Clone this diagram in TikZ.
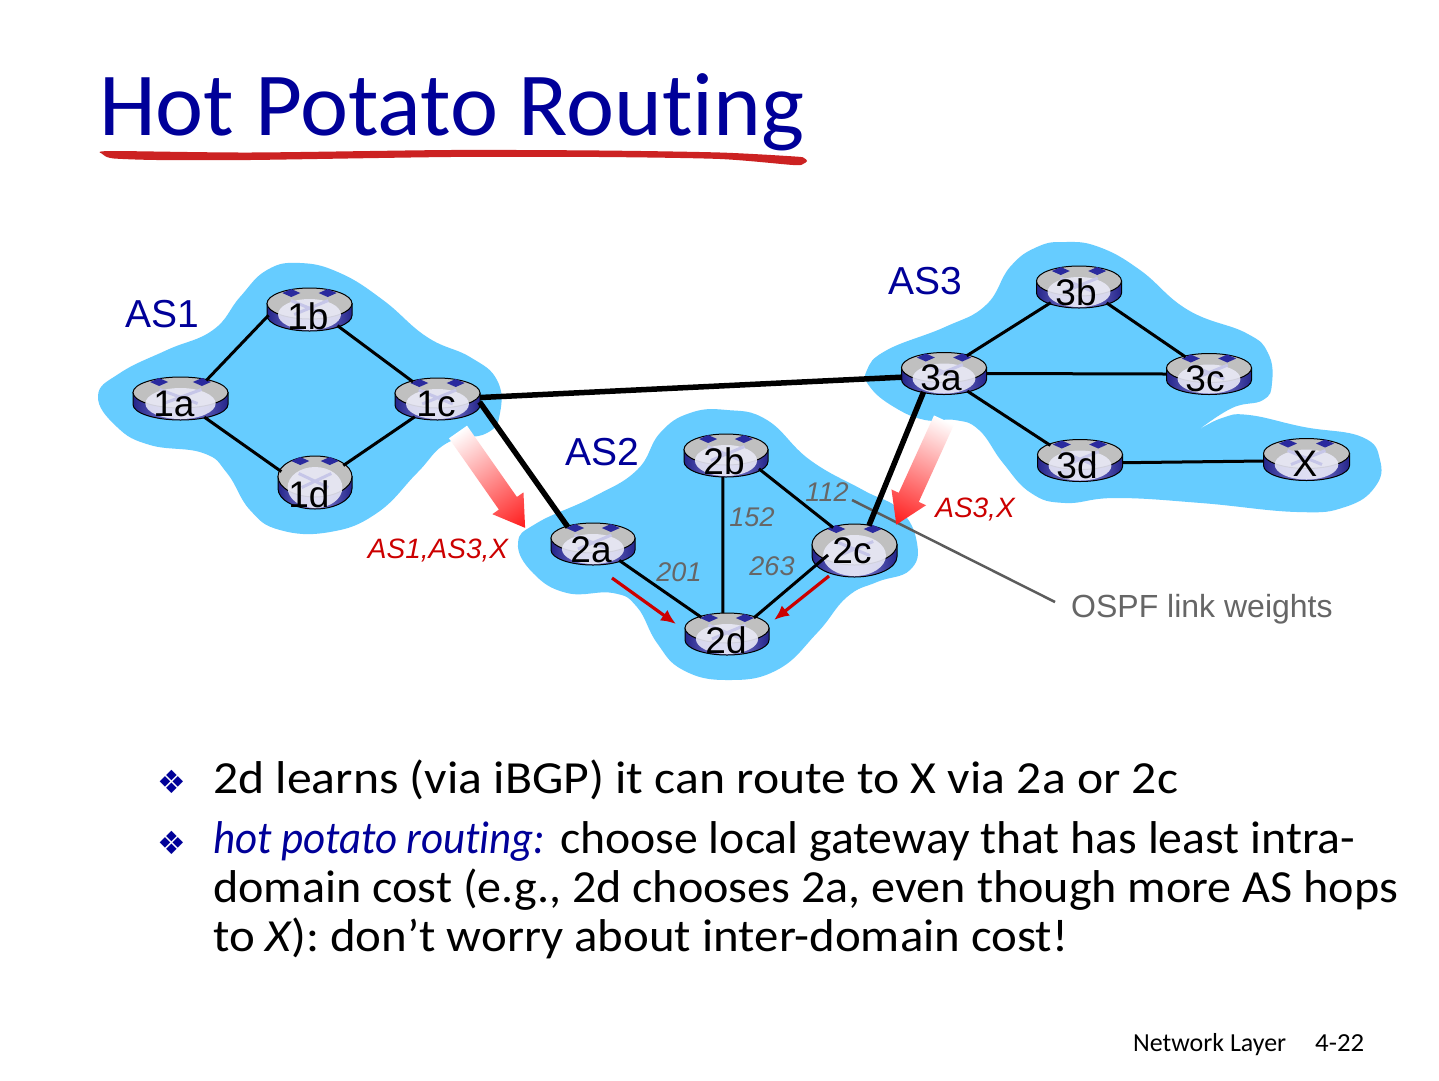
\documentclass[tikz,border=0pt]{standalone}
\usepackage{graphicx}
\usepackage{fontspec}
\setmainfont[Ligatures=NoCommon]{Carlito}
\newfontfamily\arialf{Liberation Sans}
\newfontfamily\dejavuf{DejaVu Sans}
\usetikzlibrary{shapes.geometric,arrows.meta}
\definecolor{navyt}{HTML}{000099}
\definecolor{blobc}{HTML}{66CCFF}
\definecolor{rednote}{HTML}{CC0000}
\definecolor{grayt}{HTML}{666666}
\definecolor{rnavy}{HTML}{24248A}
\definecolor{rlav}{HTML}{8C8CDC}
\definecolor{rtop}{HTML}{C0C0C0}
\definecolor{rglow}{HTML}{E8E8F6}
\definecolor{rchev}{HTML}{C6C6E8}
\definecolor{rdia}{HTML}{2A2A9E}
\definecolor{brush}{HTML}{CC2222}
\newcommand{\fsz}[1]{\fontsize{#1}{#1}\selectfont}
\newcommand{\fitw}[2]{\resizebox{#1pt}{\height}{#2}}
\tikzset{
  x=1pt,y=-1pt,
  blob/.style={fill=blobc,draw=none},
  lnk/.style={draw=black,line width=3pt},
  hvy/.style={draw=black,line width=5.5pt},
  routeranchor/.style={ellipse,inner sep=0pt,outer sep=0pt},
  routerlabel/.style={font=\arialf\fsz{37},text=black,inner sep=0pt},
  aslabel/.style={font=\arialf\fsz{39},text=navyt,inner sep=0pt},
  rednode/.style={font=\arialf\itshape\fsz{28},text=rednote,inner sep=0pt},
  weight/.style={font=\arialf\itshape\fsz{27},text=grayt,inner sep=0pt},
  pathnote/.style={draw=rednote,line width=3.2pt,-{Latex[length=15pt,width=13pt]}},
  bodytext/.style={anchor=base west,inner sep=0pt,font=\fsz{46},text=black},
  bullet/.style={font=\dejavuf\fsz{32},text=navyt,inner sep=0pt},
}
% name, cx, cy, w, h, label, lx, ly
\newcommand{\router}[8]{%
  \begin{scope}[shift={(#2,#3)}]
    \pgfmathsetmacro{\rrx}{#4/2}
    \pgfmathsetmacro{\rry}{(#5-12)/2}
    \pgfmathsetmacro{\rkx}{0.55*\rrx}
    \pgfmathsetmacro{\rky}{6+0.55*\rry}
    \pgfmathsetmacro{\rby}{6+\rry}
    \path[draw=black,line width=1pt,left color=rnavy,right color=rnavy,middle color=rlav]
      (-\rrx,-6) -- (-\rrx,6) .. controls (-\rrx,\rky) and (-\rkx,\rby) .. (0,\rby)
      .. controls (\rkx,\rby) and (\rrx,\rky) .. (\rrx,6) -- (\rrx,-6) -- cycle;
    \path[draw=black,line width=1pt,fill=rtop] (0,-6) ellipse [x radius=\rrx,y radius=\rry];
    \fill[rglow,opacity=.9] (0,5) ellipse [x radius={0.37*#4},y radius=\rry];
    \draw[rchev,line width=3pt] (-0.22*#4,-9) -- (0.18*#4,5) (0.22*#4,-9) -- (-0.18*#4,5);
    \fill[rdia] (-0.32*#4,-\rry-1) -- ++(9,-4) -- ++(9,4) -- ++(-9,4) -- cycle;
    \fill[rdia] (0.32*#4,-\rry-1) -- ++(-9,-4) -- ++(-9,4) -- ++(9,4) -- cycle;
  \end{scope}
  \node[routeranchor,minimum width=#4pt,minimum height=#5pt] (#1) at (#2,#3) {};
  \node[routerlabel] (#1-label) at (#7,#8) {#6};
}
% x, y, rotation, length
\newcommand{\gradarrow}[4]{%
  \begin{scope}[transform canvas={shift={(#1,#2)},rotate=#3}]
    \shade[left color=white,right color=red!90!white]
      (0,-11) -- (#4-30,-11) -- (#4-30,-19) -- (#4,0) -- (#4-30,19) -- (#4-30,11) -- (0,11) -- cycle;
  \end{scope}
}
\begin{document}
\begin{tikzpicture}
\useasboundingbox (0,0) rectangle (1439,1080);
\fill[white] (0,0) rectangle (1439,1080);

% title
\node[anchor=base west,inner sep=0pt,font=\fsz{90},text=navyt] (title) at (99,135) {\fitw{705}{Hot Potato Routing}};
\fill[brush] plot[smooth,tension=.45] coordinates {(101,153) (112,151) (250,152.5) (450,150) (600,150.5) (720,152.5) (795,156.5) (804,158) (807,161) (803,164) (793,165) (720,159) (600,157) (450,157) (250,160) (157,160) (114,158.5) (105,156)} -- cycle;

% clouds
\fill[blob] plot[smooth cycle,tension=.75] coordinates {(98,396) (120,373) (167,350) (213,330) (240,297) (267,270) (300,263) (340,273) (383,300) (427,337) (470,357) (497,380) (500,413) (487,433) (447,443) (417,473) (377,513) (330,532) (280,530) (250,510) (227,473) (203,453) (150,445) (117,427)};
\fill[blob] plot[smooth cycle,tension=.75] coordinates {(518,543) (537,523) (593,497) (637,470) (660,433) (690,413) (727,410) (767,420) (810,460) (863,490) (900,510) (917,543) (910,570) (877,582) (847,597) (817,633) (777,670) (727,680) (683,670) (657,643) (637,607) (613,593) (567,593) (533,573)};
\fill[blob] plot[smooth,tension=.75] coordinates {(1197,431) (1222,418) (1249,415) (1304,427) (1362,437) (1380,460) (1375,487) (1345,507) (1297,512) (1201,503) (1116,498) (1065,503) (1031,493) (1003,463) (979,430) (955,420) (925,420) (894,407) (870,387) (867,370) (887,350) (945,327) (986,305) (1010,267) (1037,247) (1065,242) (1099,247) (1140,270) (1188,310) (1246,333) (1268,353) (1272,383) (1263,400) (1232,408) (1197,431)} -- cycle;

% leader to the weights note
\coordinate (ospfstart) at (852,500);
\node[anchor=base west,inner sep=0pt,font=\arialf\fsz{32},text=grayt] (ospf) at (1071,617) {OSPF link weights};
\coordinate (ospfend) at (1055,602);
\draw[draw=grayt!90!black,line width=2.5pt] (ospfstart) -- (ospfend);

% gradient arrows
\gradarrow{458}{432}{-55}{117}
\gradarrow{944}{420}{-114.5}{115}

% routers
\router{r1a}{180.5}{398.5}{95}{43}{1a}{174}{404}
\router{r1b}{309.5}{309.5}{85}{43}{1b}{308}{316}
\router{r1c}{437.5}{399}{85}{42}{1c}{436}{404}
\router{r1d}{315}{482.5}{74}{53}{1d}{309}{494}
\router{r2a}{593}{544}{84}{42}{2a}{591}{550}
\router{r2b}{726}{455.5}{84}{43}{2b}{724}{461}
\router{r2c}{854.5}{550.5}{85}{53}{2c}{852}{551}
\router{r2d}{727}{634}{84}{42}{2d}{726}{640}
\router{r3a}{944}{373.5}{85}{42}{3a}{941}{378}
\router{r3b}{1079}{287}{85}{42}{3b}{1076}{292}
\router{r3c}{1209}{374}{85}{41}{3c}{1205}{379}
\router{r3d}{1080}{460.5}{85}{42}{3d}{1077}{465}
\router{rX}{1306.5}{459.5}{86}{42}{X}{1305}{464}

% links
\draw[lnk] (r1a.35.5) -- (r1b.188);
\draw[lnk] (r1b.-30) -- (r1c.145);
\draw[lnk] (r1a.-38) -- (r1d.162);
\draw[lnk] (r1d.31.5) -- (r1c.218);
\draw[lnk] (r2a.-32) -- (r2d.147);
\draw[lnk] (r2b.262) -- (r2d.101);
\draw[lnk] (r2b.-22) -- (r2c.133);
\coordinate (r2cin) at (828,555);
\draw[lnk] (r2cin) -- (r2d.31);
\draw[lnk] (r3a.38) -- (r3b.209);
\draw[lnk] (r3b.-30) -- (r3c.144);
\draw[lnk] (r3a.0) -- (r3c.180);
\draw[lnk] (r3a.-37.5) -- (r3d.153);
\draw[lnk] (r3d.-3) -- (rX.182);
\draw[hvy] (r1c.2) -- (r3a.185);
\draw[hvy] (r1c.-4) -- (r2a.146);
\draw[hvy] (r3a.222) -- (r2c.60);

% route arrows
\coordinate (p1) at (612,578);
\coordinate (p1end) at (676,624);
\coordinate (p2) at (829,576);
\coordinate (p2end) at (774,620);
\draw[pathnote] (p1) -- (p1end);
\draw[pathnote] (p2) -- (p2end);

% labels
\node[aslabel] (as1) at (162,314) {AS1};
\node[aslabel] (as2) at (602,452) {AS2};
\node[aslabel] (as3) at (925,281) {AS3};
\node[rednode] (n1) at (438,551) {AS1,AS3,X};
\node[rednode] (n2) at (975,510) {AS3,X};
\node[weight] (w112) at (827,492) {112};
\node[weight] (w152) at (752,517) {152};
\node[weight] (w201) at (679,572) {201};
\node[weight] (w263) at (772,566) {263};

% bullets and text
\node[bullet] (b1) at (172,782) {❖};
\node[bullet] (b2) at (172,843) {❖};
\node[bodytext] (t1) at (213,793) {\fitw{965}{2d learns (via iBGP) it can route to X via 2a or 2c}};
\node[bodytext] (t2) at (213,853) {\fitw{332}{\itshape\color{navyt}hot potato routing:}\hspace{15pt}\fitw{795}{choose local gateway that has least intra-}};
\node[bodytext] (t3) at (213,902) {\fitw{1185}{domain cost (e.g., 2d chooses 2a, even though more AS hops}};
\node[bodytext] (t4) at (213,951) {\fitw{855}{to {\itshape X}): don’t worry about inter-domain cost!}};

% footer
\node[anchor=base west,inner sep=0pt,font=\fsz{26},text=black] (f1) at (1133,1051) {\fitw{153}{Network Layer}};
\node[anchor=base west,inner sep=0pt,font=\fsz{26},text=black] (f2) at (1315,1051) {\fitw{49}{4-22}};
\end{tikzpicture}
\end{document}
